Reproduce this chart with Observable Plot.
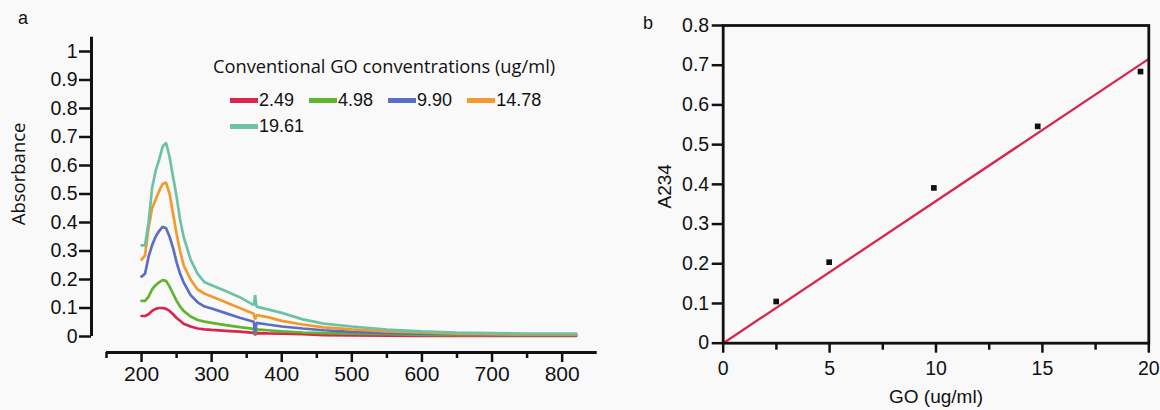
<!DOCTYPE html>
<html>
<head>
<meta charset="utf-8">
<script src="https://cdn.jsdelivr.net/npm/d3@7"></script>
<script src="https://cdn.jsdelivr.net/npm/@observablehq/plot@0.6"></script>
<style>
  html, body { margin: 0; padding: 0; background: #f9f9f9; }
  #wrap { position: relative; width: 1160px; height: 410px; background: #f9f9f9; overflow: hidden; font-family: "Liberation Sans", Arial, sans-serif; }
  #panelA, #panelB { position: absolute; top: 0; }
  #panelA { left: 0; }
  #panelB { left: 630px; }
  .plab { position: absolute; font-family: "Liberation Sans", Arial, sans-serif; font-size: 18px; color: #111; }
  #legTitle { position: absolute; left: 213px; top: 55px; font-family: "Open Sans", sans-serif; font-size: 18.3px; color: #111; line-height: 22px; white-space: nowrap; }
  #legend { position: absolute; left: 230px; top: 88px; width: 360px; display: flex; flex-wrap: wrap; column-gap: 15px; row-gap: 2px; }
  .item { display: flex; align-items: center; height: 24px; font-family: "Liberation Sans", Arial, sans-serif; font-size: 18px; color: #111; }
  .sw { width: 28px; height: 5px; margin-right: 1px; }
</style>
</head>
<body>
<div id="wrap">
  <div id="panelA"></div>
  <div id="panelB"></div>
  <div class="plab" style="left:18px; top:8px;">a</div>
  <div class="plab" style="left:643px; top:13px;">b</div>
  <div id="legTitle">Conventional GO conventrations (ug/ml)</div>
  <div id="legend"></div>
</div>
<script>
// ---------- Data (panel a: UV-vis spectra) ----------
const wavelengths = [200, 205, 210, 215, 220, 225, 230, 235, 240, 245, 250, 255, 260, 270, 280, 290, 300, 320, 340, 360, 362, 364, 380, 400, 430, 460, 500, 550, 600, 650, 700, 750, 800, 820];
const concentrations = ["2.49", "4.98", "9.90", "14.78", "19.61"];
const colors = ["#d8264f", "#5fb52c", "#5b6ec4", "#f29a2e", "#6cc2a2"];
const abs249  = [0.072, 0.072, 0.078, 0.090, 0.097, 0.100, 0.100, 0.097, 0.090, 0.078, 0.065, 0.055, 0.045, 0.035, 0.028, 0.025, 0.023, 0.020, 0.017, 0.013, 0.006, 0.012, 0.011, 0.010, 0.008, 0.005, 0.004, 0.003, 0.002, 0.002, 0.002, 0.002, 0.002, 0.002];
const abs498  = [0.125, 0.125, 0.140, 0.165, 0.180, 0.190, 0.198, 0.195, 0.175, 0.150, 0.125, 0.105, 0.090, 0.070, 0.058, 0.052, 0.048, 0.040, 0.033, 0.027, 0.008, 0.025, 0.022, 0.018, 0.014, 0.012, 0.010, 0.008, 0.006, 0.005, 0.005, 0.005, 0.005, 0.005];
const abs990  = [0.210, 0.220, 0.280, 0.320, 0.350, 0.370, 0.385, 0.380, 0.350, 0.310, 0.260, 0.220, 0.190, 0.145, 0.120, 0.105, 0.098, 0.082, 0.066, 0.052, 0.012, 0.048, 0.042, 0.035, 0.028, 0.022, 0.016, 0.012, 0.010, 0.008, 0.006, 0.006, 0.006, 0.006];
const abs1478 = [0.270, 0.285, 0.380, 0.450, 0.480, 0.510, 0.535, 0.540, 0.500, 0.430, 0.360, 0.300, 0.250, 0.200, 0.165, 0.150, 0.140, 0.120, 0.100, 0.080, 0.060, 0.075, 0.068, 0.055, 0.042, 0.032, 0.025, 0.018, 0.014, 0.010, 0.008, 0.007, 0.007, 0.007];
const abs1961 = [0.320, 0.320, 0.400, 0.520, 0.580, 0.620, 0.665, 0.680, 0.630, 0.560, 0.490, 0.410, 0.350, 0.270, 0.220, 0.190, 0.180, 0.160, 0.138, 0.110, 0.145, 0.105, 0.095, 0.083, 0.060, 0.045, 0.035, 0.024, 0.018, 0.014, 0.012, 0.010, 0.010, 0.010];
const seriesValues = [abs249, abs498, abs990, abs1478, abs1961];
const xMajorA = [200, 300, 400, 500, 600, 700, 800];
const xMinorA = [150, 250, 350, 450, 550, 650, 750];
const yTicksA = [0, 0.1, 0.2, 0.3, 0.4, 0.5, 0.6, 0.7, 0.8, 0.9, 1];
const yTickLabelsA = ["0", "0.1", "0.2", "0.3", "0.4", "0.5", "0.6", "0.7", "0.8", "0.9", "1"];

// ---------- Data (panel b: calibration) ----------
const goConc = [2.49, 4.98, 9.90, 14.78, 19.61];
const a234 = [0.105, 0.204, 0.391, 0.546, 0.684];
const fitX = [0, 20];
const fitY = [0, 0.716];
const xMajorB = [0, 5, 10, 15, 20];
const xMinorB = [2.5, 7.5, 12.5, 17.5];
const yTicksB = [0, 0.1, 0.2, 0.3, 0.4, 0.5, 0.6, 0.7, 0.8];
const yTickLabelsB = ["0", "0.1", "0.2", "0.3", "0.4", "0.5", "0.6", "0.7", "0.8"];

// ---------- Build tables ----------
const spectra = [];
concentrations.forEach((c, s) => {
  wavelengths.forEach((w, i) => spectra.push({conc: c, wl: w, abs: seriesValues[s][i]}));
});
const points = goConc.map((x, i) => ({x, y: a234[i]}));
const fit = fitX.map((x, i) => ({x, y: fitY[i]}));

const tickFont = "Liberation Sans, Arial, sans-serif";

// ---------- Panel a ----------
const plotA = Plot.plot({
  width: 620,
  height: 410,
  marginLeft: 106,
  marginRight: 23.3,
  marginTop: 36.75,
  marginBottom: 74,
  style: {background: "transparent", fontFamily: tickFont, color: "#111"},
  x: {domain: [150, 850], label: null},
  y: {domain: [0, 1.05], label: null},
  color: {domain: concentrations, range: colors},
  marks: [
    Plot.ruleX([150], {y1: 0, y2: 1.05, dx: -15, stroke: "#111", strokeWidth: 3}),
    Plot.axisY(yTicksA, {anchor: "left", dx: -15, tickSize: 12, tickPadding: 2, strokeWidth: 2.5,
      tickFormat: (d) => yTickLabelsA[yTicksA.indexOf(d)], fontSize: 19.5, label: null}),
    Plot.ruleY([0], {x1: 150, x2: 850, dy: 16, stroke: "#111", strokeWidth: 3}),
    Plot.axisX(xMajorA, {anchor: "bottom", dy: 16, tickSize: 10, tickPadding: 4, strokeWidth: 2.5, fontSize: 21, label: null}),
    Plot.axisX(xMinorA, {anchor: "bottom", dy: 16, tickSize: 6, strokeWidth: 2.5, tickFormat: () => "", label: null}),
    Plot.line(spectra, {x: "wl", y: "abs", z: "conc", stroke: "conc", strokeWidth: 2.7, strokeLinejoin: "miter"}),
    Plot.text(["Absorbance"], {frameAnchor: "left", textAnchor: "middle", lineAnchor: "middle", rotate: -90,
      dx: -87, dy: -13, fontSize: 18.5, fontFamily: "Open Sans, sans-serif", fill: "#111"})
  ]
});
document.getElementById("panelA").appendChild(plotA);

// ---------- Panel b ----------
const plotB = Plot.plot({
  width: 530,
  height: 410,
  marginLeft: 92.7,
  marginRight: 11.7,
  marginTop: 25,
  marginBottom: 67.3,
  style: {background: "transparent", fontFamily: tickFont, color: "#111"},
  x: {domain: [0, 20], label: null},
  y: {domain: [0, 0.8], label: null},
  marks: [
    Plot.axisY(yTicksB, {anchor: "left", tickSize: 11, tickPadding: 3, strokeWidth: 2.5,
      tickFormat: (d) => yTickLabelsB[yTicksB.indexOf(d)], fontSize: 19.5, label: null}),
    Plot.axisX(xMajorB, {anchor: "bottom", tickSize: 10, tickPadding: 8, strokeWidth: 2.5, fontSize: 19.5, label: null}),
    Plot.axisX(xMinorB, {anchor: "bottom", tickSize: 7, strokeWidth: 2.5, tickFormat: () => "", label: null}),
    Plot.line(fit, {x: "x", y: "y", stroke: "#d8264f", strokeWidth: 2.3}),
    Plot.dot(points, {x: "x", y: "y", symbol: "square", r: 3.2, fill: "#111", stroke: "none"}),
    Plot.frame({stroke: "#111", strokeWidth: 2.8}),
    Plot.text(["A234"], {frameAnchor: "left", textAnchor: "middle", lineAnchor: "middle", rotate: -90,
      dx: -58, dy: 2, fontSize: 19, fill: "#111"}),
    Plot.text(["GO (ug/ml)"], {frameAnchor: "bottom", textAnchor: "middle", lineAnchor: "middle",
      dy: 54, fontSize: 19, fill: "#111"})
  ]
});
document.getElementById("panelB").appendChild(plotB);

// ---------- Legend ----------
const legend = d3.select("#legend");
concentrations.forEach((c, i) => {
  const it = legend.append("div").attr("class", "item");
  it.append("div").attr("class", "sw").style("background", colors[i]);
  it.append("span").text(c);
});
</script>
</body>
</html>
